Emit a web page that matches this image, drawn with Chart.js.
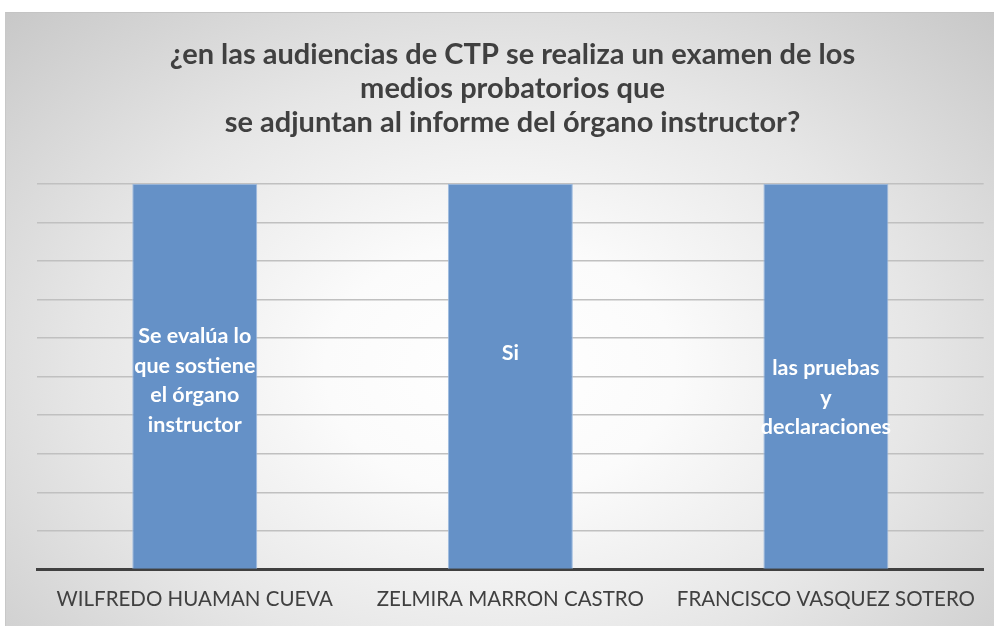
<!DOCTYPE html>
<html>
<head>
<meta charset="utf-8">
<script src="https://cdn.jsdelivr.net/npm/chart.js@4"></script>
<style>
  html, body { margin: 0; padding: 0; background: #ffffff; overflow: hidden; }
  #wrap {
    position: absolute; left: 5px; top: 12px; width: 989px; height: 614px;
    border-top: 1px solid #c4c4c4; border-left: 1px solid #c8c8c8;
    box-sizing: border-box; overflow: hidden;
    background: radial-gradient(ellipse farthest-corner at 50% 58%, #ffffff 0%, #fbfbfb 25%, #e6e6e6 60%, #c8c8c8 100%);
  }
  canvas { display: block; }
</style>
</head>
<body>
<div id="wrap"><canvas id="c" width="988" height="620"></canvas></div>
<script>
const titleLines = [
  '¿en las audiencias de CTP se realiza un examen de los',
  'medios probatorios que',
  'se adjuntan al informe del órgano instructor?'
];
const categories = ['WILFREDO HUAMAN CUEVA', 'ZELMIRA MARRON CASTRO', 'FRANCISCO VASQUEZ SOTERO'];
const values = [1, 1, 1];
const barLabels = [
  ['Se evalúa lo', 'que sostiene', 'el órgano', 'instructor'],
  ['Si'],
  ['las pruebas', 'y', 'declaraciones']
];

const barLabelPlugin = {
  id: 'barLabels',
  afterDatasetsDraw(chart, args, opts) {
    const ctx = chart.ctx;
    const meta = chart.getDatasetMeta(0);
    ctx.save();
    ctx.fillStyle = '#ffffff';
    ctx.font = 'bold 21.5px Lato';
    ctx.textAlign = 'center';
    ctx.textBaseline = 'middle';
    meta.data.forEach((bar, i) => {
      const lines = barLabels[i];
      const lh = opts.lineHeight;
      const cy = (bar.y + bar.base) / 2 + opts.shift[i];
      const start = cy - (lines.length - 1) * lh / 2;
      lines.forEach((t, k) => ctx.fillText(t, bar.x, start + k * lh));
    });
    ctx.restore();
  }
};

new Chart(document.getElementById('c'), {
  type: 'bar',
  data: {
    labels: categories,
    datasets: [{
      data: values,
      backgroundColor: '#6591c7',
      borderColor: '#9dbbe0',
      borderWidth: 1,
      categoryPercentage: 0.396,
      barPercentage: 1
    }]
  },
  options: {
    responsive: false,
    animation: false,
    layout: { padding: { left: 31, right: 6, top: 0, bottom: 3 } },
    plugins: {
      legend: { display: false },
      tooltip: { enabled: false },
      title: {
        display: true,
        text: titleLines,
        color: '#404040',
        font: { family: 'Lato', weight: 'bold', size: 29, lineHeight: 1.17 },
        padding: { top: 25, bottom: 44 }
      },
      barLabels: { lineHeight: 29.5, shift: [4.5, -23.5, 21.5] }
    },
    scales: {
      x: {
        grid: { display: false, drawTicks: false, tickLength: 0 },
        border: { display: true, color: '#404040', width: 3 },
        ticks: { color: '#404040', font: { family: 'Lato', size: 20.5 }, padding: 18, maxRotation: 0, autoSkip: false }
      },
      y: {
        min: 0, max: 1,
        ticks: { display: false, stepSize: 0.1 },
        grid: { color: '#c0c0c0', lineWidth: 1.5, drawTicks: false },
        border: { display: false }
      }
    }
  },
  plugins: [barLabelPlugin]
});
</script>
</body>
</html>
